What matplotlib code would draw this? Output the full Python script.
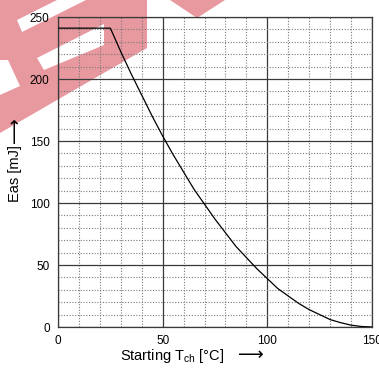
"""Eas vs starting channel temperature chart."""
import numpy as np
from matplotlib import pyplot as plt, rcParams
from matplotlib.patches import Polygon
from matplotlib.ticker import MultipleLocator

rcParams['font.family'] = ['Liberation Sans', 'DejaVu Sans']
rcParams['mathtext.default'] = 'regular'
rcParams['font.size'] = 8

# Curve.
T_CH = [0, 25, 30, 35, 40, 45, 50, 55, 60, 65, 70, 75, 80, 85, 90, 95,
        100, 105, 110, 115, 120, 125, 130, 135, 140, 145, 150]
EAS = [241, 241, 222, 204, 187, 170, 154, 139, 125, 111, 99, 87, 76, 65,
       56, 47, 39, 31, 25, 19, 14, 10, 6, 3.5, 1.5, 0.4, 0]

X_TICKS = [0, 50, 100, 150]
Y_TICKS = [0, 50, 100, 150, 200, 250]

W, H = 379, 374
# Watermark shapes, in picture pixels (y down).
RED_PARTS = [
    [(0, 0), (147, 0), (147, 48), (0, 133)],
    [(170, 0), (225, 0), (197, 18)],
]
WHITE_PARTS = [
    [(17, 20), (22, 32), (86, 0), (57, 0)],
    [(37, 58), (44, 70), (104, 45), (104, 24)],
    [(0, 60), (0, 95), (20, 86), (8, 60)],
]


def px(points):
    return [(x / W, 1 - y / H) for x, y in points]


fig = plt.figure(figsize=(W / 100, H / 100), dpi=100)

for part in RED_PARTS:
    fig.patches.append(Polygon(px(part), closed=True, transform=fig.transFigure,
                               facecolor='#e8989f', edgecolor='none', zorder=-2))
for part in WHITE_PARTS:
    fig.patches.append(Polygon(px(part), closed=True, transform=fig.transFigure,
                               facecolor='white', edgecolor='none', zorder=-1))

ax = fig.add_axes([58 / W, 1 - 327 / H, 314 / W, 310 / H])
ax.set_facecolor('none')

ax.plot(T_CH, EAS, color='black', lw=0.9, zorder=3)

ax.set_xlim(0, 150)
ax.set_ylim(0, 250)
ax.set_xticks(X_TICKS)
ax.set_yticks(Y_TICKS)
ax.xaxis.set_minor_locator(MultipleLocator(10))
ax.yaxis.set_minor_locator(MultipleLocator(10))
ax.grid(which='major', color='#3a3a3a', lw=0.9, ls='-')
ax.grid(which='minor', color='#7a7a7a', lw=0.8, ls=(0, (1, 1.5)))
ax.tick_params(which='both', length=0, labelsize=8.5, pad=6)
for s in ax.spines.values():
    s.set_color('#3a3a3a')
    s.set_linewidth(0.9)

fig.text(120 / W, 1 - 356 / H, 'Starting T$_{ch}$ [°C]', fontsize=10.5,
         va='center', ha='left')
fig.text(238 / W, 1 - 355 / H, '\u27f6', fontsize=13, va='center', ha='left',
         family=['DejaVu Sans'])
fig.text(15 / W, 1 - 174 / H, 'Eas [mJ]', fontsize=10.5, rotation=90,
         va='center', ha='center')
fig.text(15 / W, 1 - 130 / H, '\u27f6', fontsize=13, rotation=90,
         va='center', ha='center', family=['DejaVu Sans'])

fig.savefig('out.png', dpi=100)
